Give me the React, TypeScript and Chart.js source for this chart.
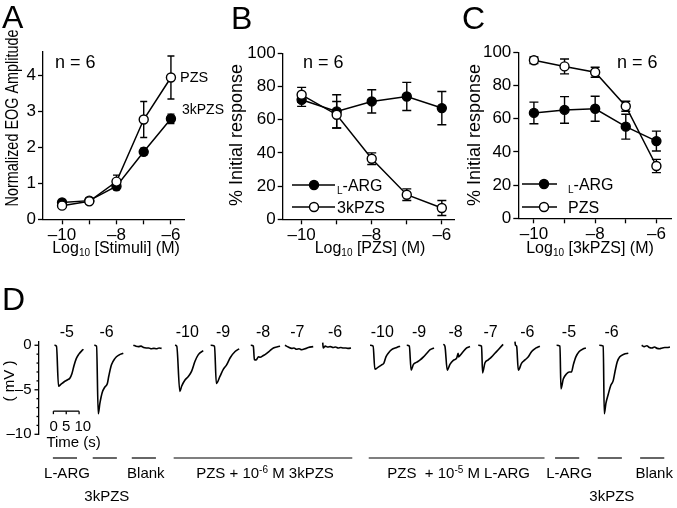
import React, { useEffect, useRef } from 'react';
import { Chart, registerables } from 'chart.js';

Chart.register(...registerables);

const FONT = '"Liberation Sans", Arial, Helvetica, sans-serif';

// ---------- shared concentration axis (log10 M)
const doses = [-10, -9, -8, -7, -6];
const doseTickLabels = ['\u201310', '', '\u20138', '', '\u20136'];

// ---------- Panel A: normalized EOG amplitude
const aPZS = [0.38, 0.5, 1.05, 2.78, 3.95];
const aPZSErr = [0.05, 0.07, 0.18, 0.5, 0.6];
const a3kPZS = [0.47, 0.52, 0.92, 1.88, 2.8];
const a3kPZSErr = [0.05, 0.08, 0.1, 0.1, 0.13];
const aYTicks = [0, 1, 2, 3, 4];

// ---------- Panel B: % initial response vs log[PZS]
const bLARG = [72, 65, 71, 74, 67];
const bLARGErr = [4, 10, 7, 8.5, 10];
const b3kPZS = [75, 63, 36.5, 14.8, 6.8];
const b3kPZSErr = [4.5, 8, 3.5, 3.5, 4.5];

// ---------- Panel C: % initial response vs log[3kPZS]
const cLARG = [63.5, 65.3, 66, 55.2, 46.5];
const cLARGErr = [6.5, 8, 7.5, 7.5, 6];
const cPZS = [95.2, 91.5, 88, 67.5, 31.5];
const cPZSErr = [2, 4.5, 3, 3, 4];

const pctTicks = [0, 20, 40, 60, 80, 100];

// ---------- Panel D: EOG traces, [time s from onset, mV]
const trLArg5a: [number, number][] = [[0, 0], [0.8, -0.1], [1.6, -4.6], [2.5, -4.4], [3.8, -4.1], [5.0, -3.9], [6.0, -3.7], [6.8, -3.2], [7.6, -2.3], [8.5, -1.5], [9.5, -1.0], [10.7, -0.6], [11.3, -0.45]];
const tr3k6a: [number, number][] = [[0, 0], [0.9, -0.1], [1.55, -7.7], [2.2, -6.5], [3.1, -5.3], [4.1, -4.7], [5.1, -4.3], [5.7, -3.4], [6.7, -2.2], [8.0, -1.5], [9.6, -1.1], [11.3, -0.9]];
const trBlankA: [number, number][] = [[0, 0], [1, -0.1], [2, -0.15], [3, -0.1], [4, -0.25], [5, -0.3], [6, -0.3], [7, -0.4], [8, -0.35], [9, -0.4], [10, -0.3], [11, -0.35]];
const trP10a: [number, number][] = [[0, 0], [0.7, -0.1], [1.9, -5.2], [2.6, -4.6], [3.9, -3.9], [5.2, -3.5], [6.5, -2.9], [7.8, -1.8], [9.1, -1.05], [11, -0.6]];
const trP9a: [number, number][] = [[0, 0], [1.5, -0.1], [2.2, -4.3], [3.6, -3.5], [4.9, -2.7], [6.2, -2.2], [7.6, -1.4], [9.5, -0.7], [11.1, -0.4]];
const trP8a: [number, number][] = [[0, 0], [1.0, -0.1], [1.4, -1.6], [2.1, -1.65], [3.0, -1.3], [3.6, -1.35], [4.9, -1.15], [6.2, -0.9], [7.5, -0.6], [8.8, -0.3], [10.7, -0.15], [11.4, -0.1]];
const trP7a: [number, number][] = [[0, 0], [1.3, -0.2], [2.6, -0.35], [3.5, -0.3], [4.5, -0.45], [5.5, -0.4], [6.5, -0.5], [7.8, -0.4], [9.1, -0.25], [11, -0.15]];
const trP6a: [number, number][] = [[0, 0.3], [0.2, -0.3], [1, -0.1], [2, -0.2], [3, -0.15], [4, -0.25], [5, -0.2], [6, -0.3], [7, -0.25], [8, -0.3], [9, -0.3], [10, -0.35], [11, -0.3]];
const trP10b: [number, number][] = [[0, 0], [1.2, -0.1], [1.9, -2.7], [3.2, -2.45], [4.5, -2.2], [5.4, -2.0], [6.2, -1.3], [7.1, -0.9], [8.4, -0.5], [10.4, -0.25], [11.7, -0.1]];
const trP9b: [number, number][] = [[0, 0], [1.0, -0.1], [1.7, -2.8], [2.6, -2.15], [3.9, -1.9], [5.2, -1.65], [6.5, -1.3], [7.8, -0.9], [9.1, -0.5], [10.6, -0.3]];
const trP8b: [number, number][] = [[0, 0.1], [0.65, -0.1], [1.55, -2.8], [2.6, -2.15], [3.9, -1.7], [5.2, -1.45], [5.8, -0.9], [6.0, -1.3], [6.5, -1.15], [7.8, -0.7], [9.1, -0.3], [10.4, -0.15]];
const trP7b: [number, number][] = [[0, 0], [1.3, -0.1], [1.7, -3.1], [2.6, -2.0], [3.9, -1.65], [5.2, -1.3], [6.5, -0.9], [7.8, -0.5], [9.7, 0.1]];
const trP6b: [number, number][] = [[0, 0.4], [0.2, 0], [0.65, -0.1], [1.3, -2.8], [2.6, -2.0], [3.9, -1.65], [5.2, -1.3], [6.5, -0.7], [8.2, -0.3], [9.7, -0.1]];
const trLArg5b: [number, number][] = [[0, 0], [1.3, -0.1], [1.7, -4.9], [2.6, -3.8], [3.9, -3.2], [4.9, -3.0], [5.8, -3.0], [6.5, -2.2], [7.5, -1.3], [8.8, -0.7], [10.4, -0.4], [11.4, -0.3]];
const tr3k6b: [number, number][] = [[0, 0], [1.55, -0.1], [1.95, -7.7], [2.6, -6.5], [3.5, -5.5], [4.5, -4.5], [5.4, -4.0], [6.1, -3.0], [7.0, -1.85], [8.0, -1.3], [9.6, -1.0], [11.3, -0.9]];
const trBlankB: [number, number][] = [[0, 0], [1, -0.15], [2, -0.05], [3, -0.25], [4, -0.3], [5, -0.2], [6, -0.35], [7, -0.4], [8, -0.3], [9, -0.25], [10, -0.25], [11, -0.2]];

const traces = [trLArg5a, tr3k6a, trBlankA, trP10a, trP9a, trP8a, trP7a, trP6a, trP10b, trP9b, trP8b, trP7b, trP6b, trLArg5b, tr3k6b, trBlankB];
const traceOnsets = [6.0, 21.5, 36.7, 52.9, 66.8, 82.4, 95.7, 110.4, 128.8, 143.1, 157.3, 170.9, 185.2, 201.4, 218.0, 234.5];
const traceLabels = ['-5', '-6', '', '-10', '-9', '-8', '-7', '-6', '-10', '-9', '-8', '-7', '-6', '-5', '-6', ''];

const groupNames = ['L-ARG', '3kPZS', 'Blank', 'PZS + 10^{-6} M 3kPZS', 'PZS  + 10^{-5} M L-ARG', 'L-ARG', '3kPZS', 'Blank'];
const groupFirst = [0, 1, 2, 3, 8, 13, 14, 15];
const groupLast = [0, 1, 2, 7, 12, 13, 14, 15];
const groupRow = [0, 1, 0, 0, 0, 0, 1, 0];

const dYTicks = [0, -1, -2, -3, -4, -5, -6, -7, -8, -9, -10];
const dYTickLabels = ['0', '', '', '', '', '\u20135', '', '', '', '', '\u201310'];

const scaleBarStart = 5.6; // s
const scaleBarTicks = [0, 5, 10]; // s
const scaleBarLabel = '0 5 10';
const scaleBarLevel = -7.4; // mV

// ---------- text helpers
type Seg = { t: string; k: 'n' | 'sub' | 'sup' };
function parseRich(s: string): Seg[] {
  const out: Seg[] = [];
  const re = /([_^])\{([^}]*)\}/g;
  let last = 0;
  let m: RegExpExecArray | null;
  while ((m = re.exec(s))) {
    if (m.index > last) out.push({ t: s.slice(last, m.index), k: 'n' });
    out.push({ t: m[2], k: m[1] === '_' ? 'sub' : 'sup' });
    last = re.lastIndex;
  }
  if (last < s.length) out.push({ t: s.slice(last), k: 'n' });
  return out;
}

type TextSpec = { s: string; x: number; y: number; size: number; align?: 'left' | 'center' | 'right'; rot?: number; sx?: number };

function drawText(ctx: CanvasRenderingContext2D, spec: TextSpec) {
  const { s, x, y, size, align = 'left', rot, sx } = spec;
  const segs = parseRich(s);
  ctx.save();
  ctx.translate(x, y);
  if (rot) ctx.rotate(rot);
  if (sx) ctx.scale(sx, 1);
  ctx.textBaseline = 'alphabetic';
  ctx.textAlign = 'left';
  ctx.fillStyle = '#000';
  const fontFor = (k: string) => `${k === 'n' ? size : Math.round(size * 0.65)}px ${FONT}`;
  let w = 0;
  for (const g of segs) {
    ctx.font = fontFor(g.k);
    w += ctx.measureText(g.t).width;
  }
  let cx = align === 'center' ? -w / 2 : align === 'right' ? -w : 0;
  const base = 0.36 * size;
  for (const g of segs) {
    ctx.font = fontFor(g.k);
    const dy = g.k === 'sub' ? 0.22 * size : g.k === 'sup' ? -0.3 * size : 0;
    ctx.fillText(g.t, cx, base + dy);
    cx += ctx.measureText(g.t).width;
  }
  ctx.restore();
}

function drawMarker(ctx: CanvasRenderingContext2D, x: number, y: number, filled: boolean) {
  ctx.beginPath();
  ctx.arc(x, y, 4.5, 0, Math.PI * 2);
  ctx.fillStyle = filled ? '#000' : '#fff';
  ctx.fill();
  ctx.lineWidth = 1.4;
  ctx.strokeStyle = '#000';
  ctx.stroke();
}

type LegendSpec = { x1: number; x2: number; mx: number; y: number; filled: boolean; tx: number; s: string };

// ---------- scale builders
const axisGrid = { drawOnChartArea: false, drawTicks: true, tickLength: 5, tickWidth: 1.3, tickColor: '#000', color: '#000' };
const axisBorder = { display: true, color: '#000', width: 1.3 };

function makeXScale(min: number, max: number, height: number) {
  return {
    type: 'linear',
    min,
    max,
    afterBuildTicks: (s: any) => { s.ticks = doses.map((v) => ({ value: v })); },
    afterFit: (s: any) => { s.height = height; },
    ticks: { autoSkip: false, maxRotation: 0, padding: 1, color: '#000', font: { family: FONT, size: 17 }, callback: (_v: any, i: number) => doseTickLabels[i] },
    grid: axisGrid,
    border: axisBorder,
  };
}
function makeYScale(min: number, max: number, ticks: number[], width: number) {
  return {
    type: 'linear',
    min,
    max,
    afterBuildTicks: (s: any) => { s.ticks = ticks.map((v) => ({ value: v })); },
    afterFit: (s: any) => { s.width = width; },
    ticks: { autoSkip: false, padding: 2, color: '#000', font: { family: FONT, size: 17 }, callback: (v: any) => String(v) },
    grid: axisGrid,
    border: axisBorder,
  };
}

const openStyle = { borderColor: '#000', borderWidth: 1.5, pointRadius: 4.5, pointBackgroundColor: '#fff', pointBorderColor: '#000', pointBorderWidth: 1.4, fill: false, tension: 0, clip: false };
const filledStyle = { ...openStyle, pointBackgroundColor: '#000' };

function series(vals: number[], errs: number[], style: any) {
  return { data: doses.map((d, i) => ({ x: d, y: vals[i] })), errs, ...style };
}

function panelPlugin(offX: number, offY: number, cap: number, texts: TextSpec[], legend: LegendSpec[]) {
  return {
    id: 'panelDecor',
    beforeDatasetsDraw(chart: any) {
      const ctx = chart.ctx as CanvasRenderingContext2D;
      const xs = chart.scales.x;
      const ys = chart.scales.y;
      ctx.save();
      ctx.strokeStyle = '#000';
      ctx.lineWidth = 1.4;
      chart.data.datasets.forEach((ds: any) => {
        if (!ds.errs) return;
        ds.data.forEach((p: any, i: number) => {
          const e = ds.errs[i];
          const x = xs.getPixelForValue(p.x);
          const yt = ys.getPixelForValue(p.y + e);
          const yb = ys.getPixelForValue(p.y - e);
          ctx.beginPath();
          ctx.moveTo(x, yt); ctx.lineTo(x, yb);
          ctx.moveTo(x - cap, yt); ctx.lineTo(x + cap, yt);
          ctx.moveTo(x - cap, yb); ctx.lineTo(x + cap, yb);
          ctx.stroke();
        });
      });
      ctx.restore();
    },
    afterDraw(chart: any) {
      const ctx = chart.ctx as CanvasRenderingContext2D;
      ctx.save();
      ctx.translate(-offX, -offY);
      for (const t of texts) drawText(ctx, t);
      for (const l of legend) {
        ctx.beginPath();
        ctx.moveTo(l.x1, l.y); ctx.lineTo(l.x2, l.y);
        ctx.strokeStyle = '#000'; ctx.lineWidth = 1.5; ctx.stroke();
        drawMarker(ctx, l.mx, l.y, l.filled);
        drawText(ctx, { s: l.s, x: l.tx, y: l.y, size: 16 });
      }
      ctx.restore();
    },
  };
}

function baseOptions(padding: any, scales: any) {
  return {
    responsive: false,
    animation: false,
    devicePixelRatio: 1,
    events: [],
    layout: { padding },
    plugins: { legend: { display: false }, tooltip: { enabled: false } },
    scales,
  };
}

const ROT = -Math.PI / 2;
const B_LEFT = 228;
const C_LEFT = 460;

function configA() {
  return {
    type: 'line',
    data: { datasets: [series(aPZS, aPZSErr, openStyle), series(a3kPZS, a3kPZSErr, filledStyle)] },
    options: baseOptions({ left: 0, top: 52, right: B_LEFT - 184, bottom: 0 }, {
      x: makeXScale(-10.7, -5.52, 42.7),
      y: makeYScale(0, 4.66, aYTicks, 43),
    }),
    plugins: [panelPlugin(0, 0, 3.5, [
      { s: 'A', x: 2, y: 16, size: 32 },
      { s: 'n = 6', x: 55, y: 62, size: 18 },
      { s: 'PZS', x: 180, y: 77, size: 14.5 },
      { s: '3kPZS', x: 182, y: 109, size: 14 },
      { s: 'Normalized EOG Amplitude', x: 11.5, y: 118, size: 18, align: 'center', rot: ROT, sx: 0.8 },
      { s: 'Log_{10} [Stimuli] (M)', x: 116, y: 247, size: 16, align: 'center' },
    ], [])],
  };
}

function configB() {
  return {
    type: 'line',
    data: { datasets: [series(b3kPZS, b3kPZSErr, openStyle), series(bLARG, bLARGErr, filledStyle)] },
    options: baseOptions({ left: 0, top: 53.3, right: C_LEFT - 455, bottom: 0 }, {
      x: makeXScale(-10.54, -5.65, 42.7),
      y: makeYScale(0, 100, pctTicks, 282.7 - B_LEFT),
    }),
    plugins: [panelPlugin(B_LEFT, 0, 4.5, [
      { s: 'B', x: 231, y: 17, size: 32 },
      { s: 'n = 6', x: 303, y: 62, size: 18 },
      { s: '% Initial response', x: 236, y: 135, size: 18, align: 'center', rot: ROT },
      { s: 'Log_{10} [PZS] (M)', x: 370, y: 247, size: 16, align: 'center' },
    ], [
      { x1: 292, x2: 335, mx: 314, y: 185, filled: true, tx: 337, s: '_{L}-ARG' },
      { x1: 292, x2: 335, mx: 314, y: 207, filled: false, tx: 337, s: '3kPZS' },
    ])],
  };
}

function configC() {
  return {
    type: 'line',
    data: { datasets: [series(cPZS, cPZSErr, openStyle), series(cLARG, cLARGErr, filledStyle)] },
    options: baseOptions({ left: 0, top: 52.3, right: 2, bottom: 0 }, {
      x: makeXScale(-10.51, -5.52, 43.7),
      y: makeYScale(0, 100, pctTicks, 518.3 - C_LEFT),
    }),
    plugins: [panelPlugin(C_LEFT, 0, 4.5, [
      { s: 'C', x: 462, y: 17, size: 32 },
      { s: 'n = 6', x: 617, y: 62, size: 18 },
      { s: '% Initial response', x: 474, y: 135, size: 18, align: 'center', rot: ROT },
      { s: 'Log_{10} [3kPZS] (M)', x: 590, y: 247, size: 16, align: 'center' },
    ], [
      { x1: 522, x2: 557, mx: 544, y: 184, filled: true, tx: 568, s: '_{L}-ARG' },
      { x1: 522, x2: 557, mx: 544, y: 207, filled: false, tx: 568, s: 'PZS' },
    ])],
  };
}

function configD() {
  const OFF_Y = 280;
  const datasets = traces.map((tr, i) => ({
    data: tr.map(([t, v]) => ({ x: traceOnsets[i] + t, y: v })),
    borderColor: '#000',
    borderWidth: 1.6,
    pointRadius: 0,
    fill: false,
    cubicInterpolationMode: 'monotone',
    clip: false,
  }));
  const plugin = {
    id: 'traceDecor',
    afterDraw(chart: any) {
      const ctx = chart.ctx as CanvasRenderingContext2D;
      const xs = chart.scales.x;
      const ys = chart.scales.y;
      const area = chart.chartArea;
      ctx.save();
      ctx.strokeStyle = '#000';
      // y tick marks (major every 5 mV, minor every 1 mV)
      ctx.lineWidth = 1.3;
      for (const v of dYTicks) {
        const y = ys.getPixelForValue(v);
        const len = v % 5 === 0 ? 4.5 : 2.5;
        ctx.beginPath(); ctx.moveTo(area.left - len, y); ctx.lineTo(area.left, y); ctx.stroke();
      }
      // concentration labels above traces
      traces.forEach((_tr, i) => {
        if (!traceLabels[i]) return;
        drawText(ctx, { s: traceLabels[i], x: xs.getPixelForValue(traceOnsets[i] + 4.8), y: area.top - 10.7, size: 16, align: 'center' });
      });
      // time scale bar
      const by = ys.getPixelForValue(scaleBarLevel);
      const bx0 = xs.getPixelForValue(scaleBarStart + scaleBarTicks[0]);
      const bx1 = xs.getPixelForValue(scaleBarStart + scaleBarTicks[scaleBarTicks.length - 1]);
      ctx.lineWidth = 1.3;
      ctx.beginPath(); ctx.moveTo(bx0, by); ctx.lineTo(bx1, by); ctx.stroke();
      for (const t of scaleBarTicks) {
        const x = xs.getPixelForValue(scaleBarStart + t);
        ctx.beginPath(); ctx.moveTo(x, by); ctx.lineTo(x, by + 3); ctx.stroke();
      }
      drawText(ctx, { s: scaleBarLabel, x: bx0 - 4, y: by + 14, size: 15 });
      drawText(ctx, { s: 'Time (s)', x: bx0 - 7, y: by + 30, size: 15 });
      // stimulus group bars and labels
      ctx.lineWidth = 1.2;
      groupNames.forEach((name, g) => {
        const single = groupFirst[g] === groupLast[g];
        const t0 = traceOnsets[groupFirst[g]] - (single ? 0.6 : 0.5);
        const t1 = traceOnsets[groupLast[g]] + (single ? 8.8 : 11.5);
        const x0 = xs.getPixelForValue(t0);
        const x1 = xs.getPixelForValue(t1);
        const ly = area.bottom + 23.7;
        ctx.beginPath(); ctx.moveTo(x0, ly); ctx.lineTo(x1, ly); ctx.stroke();
        drawText(ctx, { s: name, x: (x0 + x1) / 2 + 2, y: ly + 14.5 + groupRow[g] * 23.5, size: 15, align: 'center' });
      });
      // titles
      drawText(ctx, { s: 'D', x: 2, y: 298 - OFF_Y, size: 32 });
      drawText(ctx, { s: '( mV )', x: 9, y: 381 - OFF_Y, size: 15, align: 'center', rot: ROT });
      ctx.restore();
    },
  };
  return {
    type: 'line',
    data: { datasets },
    options: baseOptions({ left: 0, top: 61.7, right: 0, bottom: 73.7 }, {
      x: { type: 'linear', display: false, min: 0, max: 248.25 },
      y: {
        type: 'linear',
        min: -10,
        max: 0.4,
        afterBuildTicks: (s: any) => { s.ticks = dYTicks.map((v) => ({ value: v })); },
        afterFit: (s: any) => { s.width = 39; },
        ticks: { autoSkip: false, padding: 3, color: '#000', font: { family: FONT, size: 15 }, callback: (_v: any, i: number) => dYTickLabels[i] },
        grid: { display: false, drawTicks: true, tickLength: 4.5 },
        border: axisBorder,
      },
    }),
    plugins: [plugin],
  };
}

function ChartCanvas({ left, top, width, height, make }: { left: number; top: number; width: number; height: number; make: () => any }) {
  const ref = useRef<HTMLCanvasElement>(null);
  useEffect(() => {
    const chart = new Chart(ref.current as HTMLCanvasElement, make());
    return () => chart.destroy();
  }, []);
  return <canvas ref={ref} width={width} height={height} style={{ position: 'absolute', left, top, width, height }} />;
}

export default function App() {
  return (
    <div style={{ position: 'absolute', left: 0, top: 0, width: 677, height: 508, background: '#fff', overflow: 'hidden' }}>
      <ChartCanvas left={0} top={0} width={B_LEFT} height={262} make={configA} />
      <ChartCanvas left={B_LEFT} top={0} width={C_LEFT - B_LEFT} height={262} make={configB} />
      <ChartCanvas left={C_LEFT} top={0} width={677 - C_LEFT} height={262} make={configC} />
      <ChartCanvas left={0} top={280} width={677} height={228} make={configD} />
    </div>
  );
}
